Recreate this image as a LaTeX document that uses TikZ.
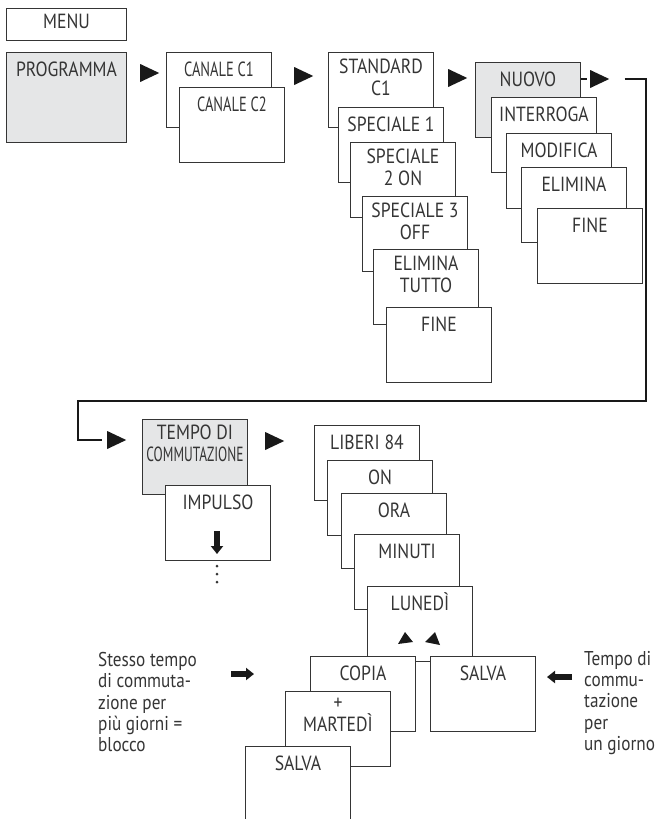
\documentclass[tikz,border=0pt]{standalone}
\usepackage{fontspec}
\setmainfont{PT Sans}[FakeStretch=0.86]
\usepackage{graphicx}
\usetikzlibrary{positioning,shapes.geometric,arrows.meta}
\definecolor{boxgray}{HTML}{E5E6E7}
\definecolor{inkgray}{HTML}{353535}

\begin{document}
\begin{tikzpicture}[x=1pt,y=-1pt]
	\fontsize{20.5}{22.5}\selectfont
	\useasboundingbox (0,0) rectangle (656,819);

	\tikzstyle{box}=[rectangle,draw=inkgray,line width=1pt,fill=white,anchor=north west,minimum width=105pt,minimum height=75pt,inner sep=0pt]
	\tikzstyle{gbox}=[box,fill=boxgray]
	\tikzstyle{txt}=[text=inkgray,align=center,inner sep=0pt,execute at begin node={\rule{0pt}{18pt}}]
	\tikzstyle{tri}=[isosceles triangle,isosceles triangle stretches,fill=black!90,inner sep=0pt,minimum width=18pt,minimum height=19pt,anchor=west]
	\tikzstyle{conn}=[draw=black!90,line width=2.6pt]
	\tikzstyle{blk}=[draw=black!90,line width=6pt,-{Triangle[length=8pt,width=12pt]}]
	\tikzstyle{note}=[text=inkgray,align=left,anchor=north west,inner sep=0pt,font=\fontsize{20}{21.3}\selectfont,execute at begin node={\rule{0pt}{18pt}}]

	% menu
	\node[box,minimum width=120pt,minimum height=32pt] (menu) at (6,8) {};
	\node[txt,below=2pt of menu.north] (menul) {MENU};
	\node[gbox,minimum width=120pt,minimum height=90pt] (prog) at (6,52) {};
	\node[txt,below=6.5pt of prog.north] (progl) {PROGRAMMA};
	\node[tri] (t1) at (140,73) {};

	% channels
	\node[box] (c1) at (166,52) {};
	\node[txt,below=6.5pt of c1.north] (c1l) {\scalebox{0.82}[1]{CANALE C1}};
	\node[box] (c2) at (179,87) {};
	\node[txt,below=6.5pt of c2.north] (c2l) {\scalebox{0.82}[1]{CANALE C2}};
	\node[tri] (t2) at (294,76) {};

	% programs
	\node[box] (std) at (328,52) {};
	\node[txt,below=6.5pt of std.north] (stdl) {STANDARD\\C1};
	\node[box] (sp1) at (338,107) {};
	\node[txt,below=6.5pt of sp1.north] (sp1l) {SPECIALE 1};
	\node[box] (sp2) at (350,142) {};
	\node[txt,below=6.5pt of sp2.north] (sp2l) {SPECIALE\\2 ON};
	\node[box] (sp3) at (362,196) {};
	\node[txt,below=6.5pt of sp3.north] (sp3l) {SPECIALE 3\\OFF};
	\node[box] (elt) at (373,249) {};
	\node[txt,below=6.5pt of elt.north] (eltl) {ELIMINA\\TUTTO};
	\node[box] (fin1) at (386,307) {};
	\node[txt,below=6.5pt of fin1.north] (fin1l) {FINE};
	\node[tri] (t3) at (448,78) {};

	% actions
	\node[gbox] (nuovo) at (475,62) {};
	\node[txt,below=6.5pt of nuovo.north] (nuovol) {NUOVO};
	\node[box] (interr) at (491,97) {};
	\node[txt,below=6.5pt of interr.north] (interrl) {INTERROGA};
	\node[box] (modif) at (506,133) {};
	\node[txt,below=6.5pt of modif.north] (modifl) {MODIFICA};
	\node[box] (elim) at (521,167) {};
	\node[txt,below=6.5pt of elim.north] (eliml) {ELIMINA};
	\node[box] (fin2) at (537,208) {};
	\node[txt,below=6.5pt of fin2.north] (fin2l) {FINE};
	\node[tri] (t4) at (590,79) {};

	% link to second row
	\coordinate (bend1) at (646,401);
	\coordinate (bend2) at (78,401);
	\node[tri] (t5) at (107,440) {};
	\draw[conn] (t4.west -| nuovo.east) -- ([xshift=-3pt]t4.west);
	\draw[conn] ([xshift=15pt]t4.east) -| (bend1) -- (bend2) |- ([xshift=-5pt]t5.west);

	% switching time
	\node[gbox] (tempo) at (142,419) {};
	\node[txt,below=5.5pt of tempo.north] (tempol) {TEMPO DI\\\scalebox{0.76}[1]{COMMUTAZIONE}};
	\node[box] (imp) at (165,485) {};
	\node[txt,below=6.5pt of imp.north] (impl) {IMPULSO};
	\coordinate (da0) at (217,531);
	\coordinate (da1) at (217,554);
	\draw[blk] (da0) -- (da1);
	\foreach \yy in {566,574,582}
		\fill[inkgray] (217,\yy) circle (1.5pt);
	\node[tri] (t6) at (265,441) {};

	% free slots
	\node[box] (lib) at (314,425) {};
	\node[txt,below=6.5pt of lib.north] (libl) {LIBERI 84};
	\node[box] (on) at (327,460) {};
	\node[txt,below=6.5pt of on.north] (onl) {ON};
	\node[box] (ora) at (341,493) {};
	\node[txt,below=6.5pt of ora.north] (oral) {ORA};
	\node[box] (min) at (354,534) {};
	\node[txt,below=6.5pt of min.north] (minl) {MINUTI};
	\node[box] (lun) at (367,586) {};
	\node[txt,below=6.5pt of lun.north] (lunl) {LUNEDÌ};
	\fill[black!90] (405,632) -- (398,644) -- (413,642) -- cycle;
	\fill[black!90] (435,632) -- (425,642) -- (440,645) -- cycle;

	% save / copy
	\node[box] (copia) at (310,656) {};
	\node[txt,below=6.5pt of copia.north] (copial) {COPIA};
	\node[box] (salva1) at (430,656) {};
	\node[txt,below=6.5pt of salva1.north] (salva1l) {SALVA};
	\node[box] (mart) at (285,691) {};
	\node[txt,below=6.5pt of mart.north] (martl) {+\\MARTEDÌ};
	\node[box] (salva2) at (245,746) {};
	\node[txt,below=6.5pt of salva2.north] (salva2l) {SALVA};

	% notes
	\node[note] (block) at (98,652) {Stesso tempo\\di commuta-\\zione per\\più giorni =\\blocco};
	\node[note] (oneday) at (584,651) {Tempo di\\commu-\\tazione\\per\\un giorno};
	\coordinate (la0) at (231,674);
	\coordinate (la1) at (254,674);
	\draw[blk] (la0) -- (la1);
	\coordinate (ra0) at (572,677);
	\coordinate (ra1) at (547,677);
	\draw[blk] (ra0) -- (ra1);
\end{tikzpicture}
\end{document}
